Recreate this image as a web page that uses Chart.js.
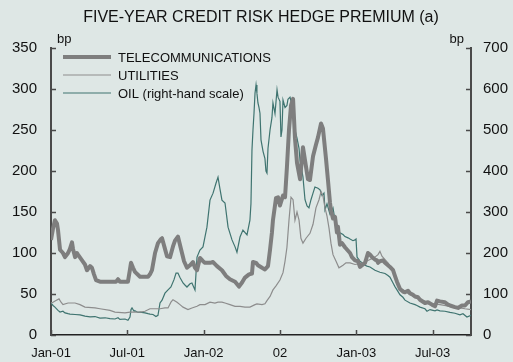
<!DOCTYPE html>
<html>
<head>
<meta charset="utf-8">
<script src="https://cdn.jsdelivr.net/npm/chart.js@4/dist/chart.umd.min.js"></script>
<style>
  html, body { margin: 0; padding: 0; background: #dee7e5; }
  canvas { display: block; }
</style>
</head>
<body>
<canvas id="chart" width="513" height="362"></canvas>
<script>
// Time axis: months elapsed since January 2001
const tickMonths = [0, 6, 12, 18, 24, 30];
const tickLabels = ['Jan-01', 'Jul-01', 'Jan-02', '02', 'Jan-03', 'Jul-03'];

// Telecommunications, bp (left scale)
const telecomMonth = [0,0.16,0.31,0.47,0.55,0.71,0.94,1.10,1.34,1.49,1.65,1.73,1.89,2.04,2.12,2.44,2.67,2.83,3.07,3.22,3.38,3.54,3.85,4.64,5.11,5.27,5.42,6.05,6.21,6.29,6.45,6.60,7.00,7.63,7.78,7.94,8.18,8.41,8.65,8.73,8.96,9.12,9.36,9.59,9.75,9.98,10.22,10.46,10.69,10.93,11.16,11.32,11.48,11.71,11.95,12.11,12.50,12.74,13.05,13.44,13.76,14.07,14.47,14.78,15.02,15.25,15.57,15.80,15.88,16.12,16.27,16.59,16.82,17.06,17.22,17.37,17.45,17.69,17.85,18.00,18.24,18.40,18.55,18.71,18.87,19.03,19.18,19.34,19.58,19.81,20.05,20.20,20.36,20.60,20.83,20.99,21.23,21.38,21.62,21.78,21.93,22.01,22.17,22.33,22.48,22.56,22.72,22.88,23.11,23.51,23.66,23.90,24.14,24.29,24.53,24.69,24.92,25.08,25.24,25.47,25.63,25.71,25.86,26.10,26.26,26.49,26.65,26.89,27.04,27.20,27.44,27.67,27.83,28.07,28.22,28.46,28.62,28.85,29.01,29.40,29.64,29.95,30.19,30.35,30.58,30.97,31.21,31.37,31.76,32.00,32.31,32.55,32.78,33.02];
const telecomBp = [116,130,140,136,128,104,100,95,100,105,113,105,95,100,98,91,86,79,84,82,74,67,65,65,65,68,65,65,80,88,82,77,71,71,74,79,100,112,117,118,105,96,95,108,115,120,105,90,82,85,89,82,79,94,90,88,88,89,84,79,72,68,65,59,64,70,74,75,89,88,85,82,80,84,104,125,140,167,168,158,170,168,205,250,280,288,240,210,190,229,205,190,189,218,232,241,258,252,215,188,162,152,142,144,125,132,110,112,107,100,95,91,90,83,86,88,100,98,95,92,91,88,90,91,88,85,83,79,72,65,56,53,52,54,51,49,47,46,43,39,40,37,35,42,41,40,37,36,34,33,36,36,40,41];

// Utilities, bp (left scale)
const utilitiesMonth = [0,0.16,0.39,0.63,0.79,0.94,1.34,1.89,2.28,2.67,3.46,3.85,4.64,5.03,5.82,6.21,7.00,7.39,7.78,8.57,8.96,9.20,9.43,9.59,9.91,10.14,10.38,10.77,11.08,11.48,11.71,12.11,12.50,12.89,13.13,13.44,13.68,14.07,14.47,14.86,15.25,15.64,16.04,16.19,16.59,16.82,16.98,17.22,17.45,17.69,18.00,18.24,18.40,18.55,18.71,18.87,19.03,19.18,19.34,19.50,19.65,19.81,20.05,20.36,20.60,20.83,21.07,21.23,21.38,21.54,21.70,21.86,22.01,22.17,22.41,22.64,22.96,23.19,23.51,23.90,24.29,24.69,25.08,25.47,25.71,25.86,26.02,26.26,26.49,26.65,26.89,27.20,27.44,27.83,28.22,28.62,29.01,29.40,29.80,30.19,30.58,31.37,32.15,32.55,33.02];
const utilitiesBp = [39,40,42,44,40,37,39,39,37,34,33,32,30,28,27,28,28,29,32,32,33,33,40,43,40,37,34,31,33,35,37,37,40,39,40,40,39,37,35,35,34,34,37,38,37,38,42,47,55,60,67,76,90,107,140,168,165,140,150,140,118,112,118,124,135,155,165,175,170,155,145,130,112,98,90,82,85,88,88,86,87,89,92,95,98,102,96,92,88,84,77,65,57,54,49,46,43,41,39,38,37,35,33,32,31];

// Oil, bp (right-hand scale)
const oilMonth = [0,0.16,0.31,0.55,0.71,0.94,1.10,1.34,1.49,1.89,2.28,2.67,3.07,3.46,3.85,4.25,4.64,5.03,5.27,5.42,5.82,6.05,6.21,6.29,6.37,6.53,6.60,6.84,7.00,7.39,7.63,7.78,8.02,8.25,8.41,8.57,8.73,8.96,9.20,9.43,9.67,9.83,9.98,10.14,10.38,10.53,10.69,10.93,11.08,11.32,11.48,11.71,11.95,12.11,12.26,12.50,12.74,12.97,13.13,13.29,13.44,13.68,13.92,14.23,14.47,14.62,14.86,15.09,15.41,15.64,15.72,15.80,15.88,15.96,16.04,16.12,16.19,16.27,16.35,16.43,16.51,16.67,16.82,16.90,16.98,17.06,17.22,17.37,17.45,17.61,17.77,17.85,18.00,18.08,18.16,18.24,18.40,18.55,18.63,18.79,18.95,19.03,19.18,19.34,19.50,19.58,19.73,19.81,19.97,20.13,20.28,20.44,20.60,20.75,20.99,21.15,21.31,21.46,21.54,21.70,21.93,22.17,22.41,22.56,22.72,22.96,23.11,23.35,23.51,23.74,23.90,23.98,24.06,24.29,24.45,24.69,24.84,25.08,25.47,25.86,26.26,26.49,26.65,26.89,27.04,27.20,27.44,27.67,27.83,28.22,28.62,28.77,29.01,29.40,29.56,29.80,30.19,30.35,30.58,30.97,31.37,31.76,32.15,32.39,32.70,33.02];
const oilBp = [78,72,68,60,56,58,54,52,51,50,49,46,44,45,41,42,40,39,42,38,39,36,44,62,66,58,59,55,56,54,52,51,50,45,48,78,85,102,110,117,135,151,151,140,127,122,117,125,127,110,190,207,215,240,263,329,346,370,385,355,329,322,263,232,215,202,239,256,244,280,320,451,500,541,590,610,590,566,555,541,476,448,430,400,395,455,500,530,566,540,598,580,570,483,500,573,555,560,575,580,560,540,500,480,455,425,400,385,330,315,310,330,346,361,358,354,340,346,305,320,295,310,265,250,249,245,240,237,234,230,232,234,190,180,176,170,168,166,158,153,150,145,141,127,118,110,98,92,85,78,74,72,68,64,58,62,59,61,59,58,55,53,49,52,44,48];

const toPoints = (xs, ys) => xs.map((x, i) => ({ x: x, y: ys[i] }));

const FONT = '"Liberation Sans", Arial, Helvetica, sans-serif';
const BG = '#dee7e5';
const AXIS = '#4a4a4a';

// Page furniture: background, title, unit labels, legend and inward tick marks
const furniture = {
  id: 'furniture',
  beforeDraw(chart) {
    const ctx = chart.ctx;
    ctx.save();
    ctx.fillStyle = BG;
    ctx.fillRect(0, 0, chart.width, chart.height);
    ctx.restore();
  },
  afterDraw(chart) {
    const ctx = chart.ctx;
    const area = chart.chartArea;
    const x = chart.scales.x, yl = chart.scales.y, yr = chart.scales.y2;
    ctx.save();
    // title
    ctx.fillStyle = '#111';
    ctx.font = '16px ' + FONT;
    ctx.textAlign = 'center';
    ctx.textBaseline = 'middle';
    ctx.fillText('FIVE-YEAR CREDIT RISK HEDGE PREMIUM (a)', 261, 18);
    // unit labels
    ctx.font = '13px ' + FONT;
    ctx.textAlign = 'left';
    ctx.fillText('bp', area.left + 6, 39);
    ctx.textAlign = 'right';
    ctx.fillText('bp', area.right - 7, 39);

    // inward tick marks
    ctx.strokeStyle = AXIS;
    ctx.lineWidth = 1.5;
    ctx.beginPath();
    yl.ticks.forEach(t => {
      const py = Math.round(yl.getPixelForValue(t.value)) + 0.5;
      ctx.moveTo(area.left, py); ctx.lineTo(area.left + 5, py);
    });
    yr.ticks.forEach(t => {
      const py = Math.round(yr.getPixelForValue(t.value)) + 0.5;
      ctx.moveTo(area.right, py); ctx.lineTo(area.right - 5, py);
    });
    tickMonths.forEach(m => {
      const px = Math.round(x.getPixelForValue(m)) + 0.5;
      ctx.moveTo(px, area.bottom); ctx.lineTo(px, area.bottom - 5);
    });
    ctx.stroke();

    // legend
    ctx.font = '13px ' + FONT;
    ctx.textAlign = 'left';
    ctx.textBaseline = 'middle';
    const rows = [57, 75, 93];
    chart.data.datasets.forEach((ds, i) => {
      const ry = rows[i];
      ctx.strokeStyle = ds.borderColor;
      ctx.lineWidth = ds.borderWidth;
      ctx.beginPath();
      ctx.moveTo(63, ry); ctx.lineTo(111, ry);
      ctx.stroke();
      ctx.fillStyle = '#111';
      ctx.fillText(ds.label, 118, ry + 1);
    });
    ctx.restore();
  }
};

new Chart(document.getElementById('chart'), {
  type: 'line',
  data: {
    datasets: [
      { label: 'TELECOMMUNICATIONS', data: toPoints(telecomMonth, telecomBp), yAxisID: 'y',
        borderColor: '#7e7e7e', borderWidth: 4, borderJoinStyle: 'round' },
      { label: 'UTILITIES', data: toPoints(utilitiesMonth, utilitiesBp), yAxisID: 'y',
        borderColor: '#8d8d8d', borderWidth: 1.2 },
      { label: 'OIL (right-hand scale)', data: toPoints(oilMonth, oilBp), yAxisID: 'y2',
        borderColor: '#3f7470', borderWidth: 1.2 }
    ]
  },
  options: {
    responsive: false,
    animation: false,
    events: [],
    parsing: true,
    elements: { point: { radius: 0 }, line: { tension: 0 } },
    layout: { padding: { top: 48, left: 0, right: 0, bottom: 0 } },
    plugins: { legend: { display: false }, title: { display: false }, tooltip: { enabled: false } },
    scales: {
      x: {
        type: 'linear', min: 0, max: 33.02,
        afterBuildTicks: s => { s.ticks = tickMonths.map(v => ({ value: v })); },
        afterFit: s => { s.height = 27; },
        ticks: {
          autoSkip: false, maxRotation: 0, padding: 11, color: '#111',
          font: { family: FONT, size: 13 },
          callback: v => tickLabels[tickMonths.indexOf(v)]
        },
        grid: { display: true, drawOnChartArea: false, drawTicks: false },
        border: { display: true, color: '#222', width: 1.5 }
      },
      y: {
        position: 'left', min: 0, max: 350,
        ticks: { stepSize: 50, padding: 14, color: '#111', font: { family: FONT, size: 15 } },
        afterFit: s => { s.width = 51; },
        grid: { display: true, drawOnChartArea: false, drawTicks: false },
        border: { display: true, color: AXIS, width: 2 }
      },
      y2: {
        position: 'right', min: 0, max: 700,
        ticks: { stepSize: 100, padding: 12, color: '#111', font: { family: FONT, size: 15 } },
        afterFit: s => { s.width = 42; },
        grid: { display: true, drawOnChartArea: false, drawTicks: false },
        border: { display: true, color: AXIS, width: 2 }
      }
    }
  },
  plugins: [furniture]
});
</script>
</body>
</html>
